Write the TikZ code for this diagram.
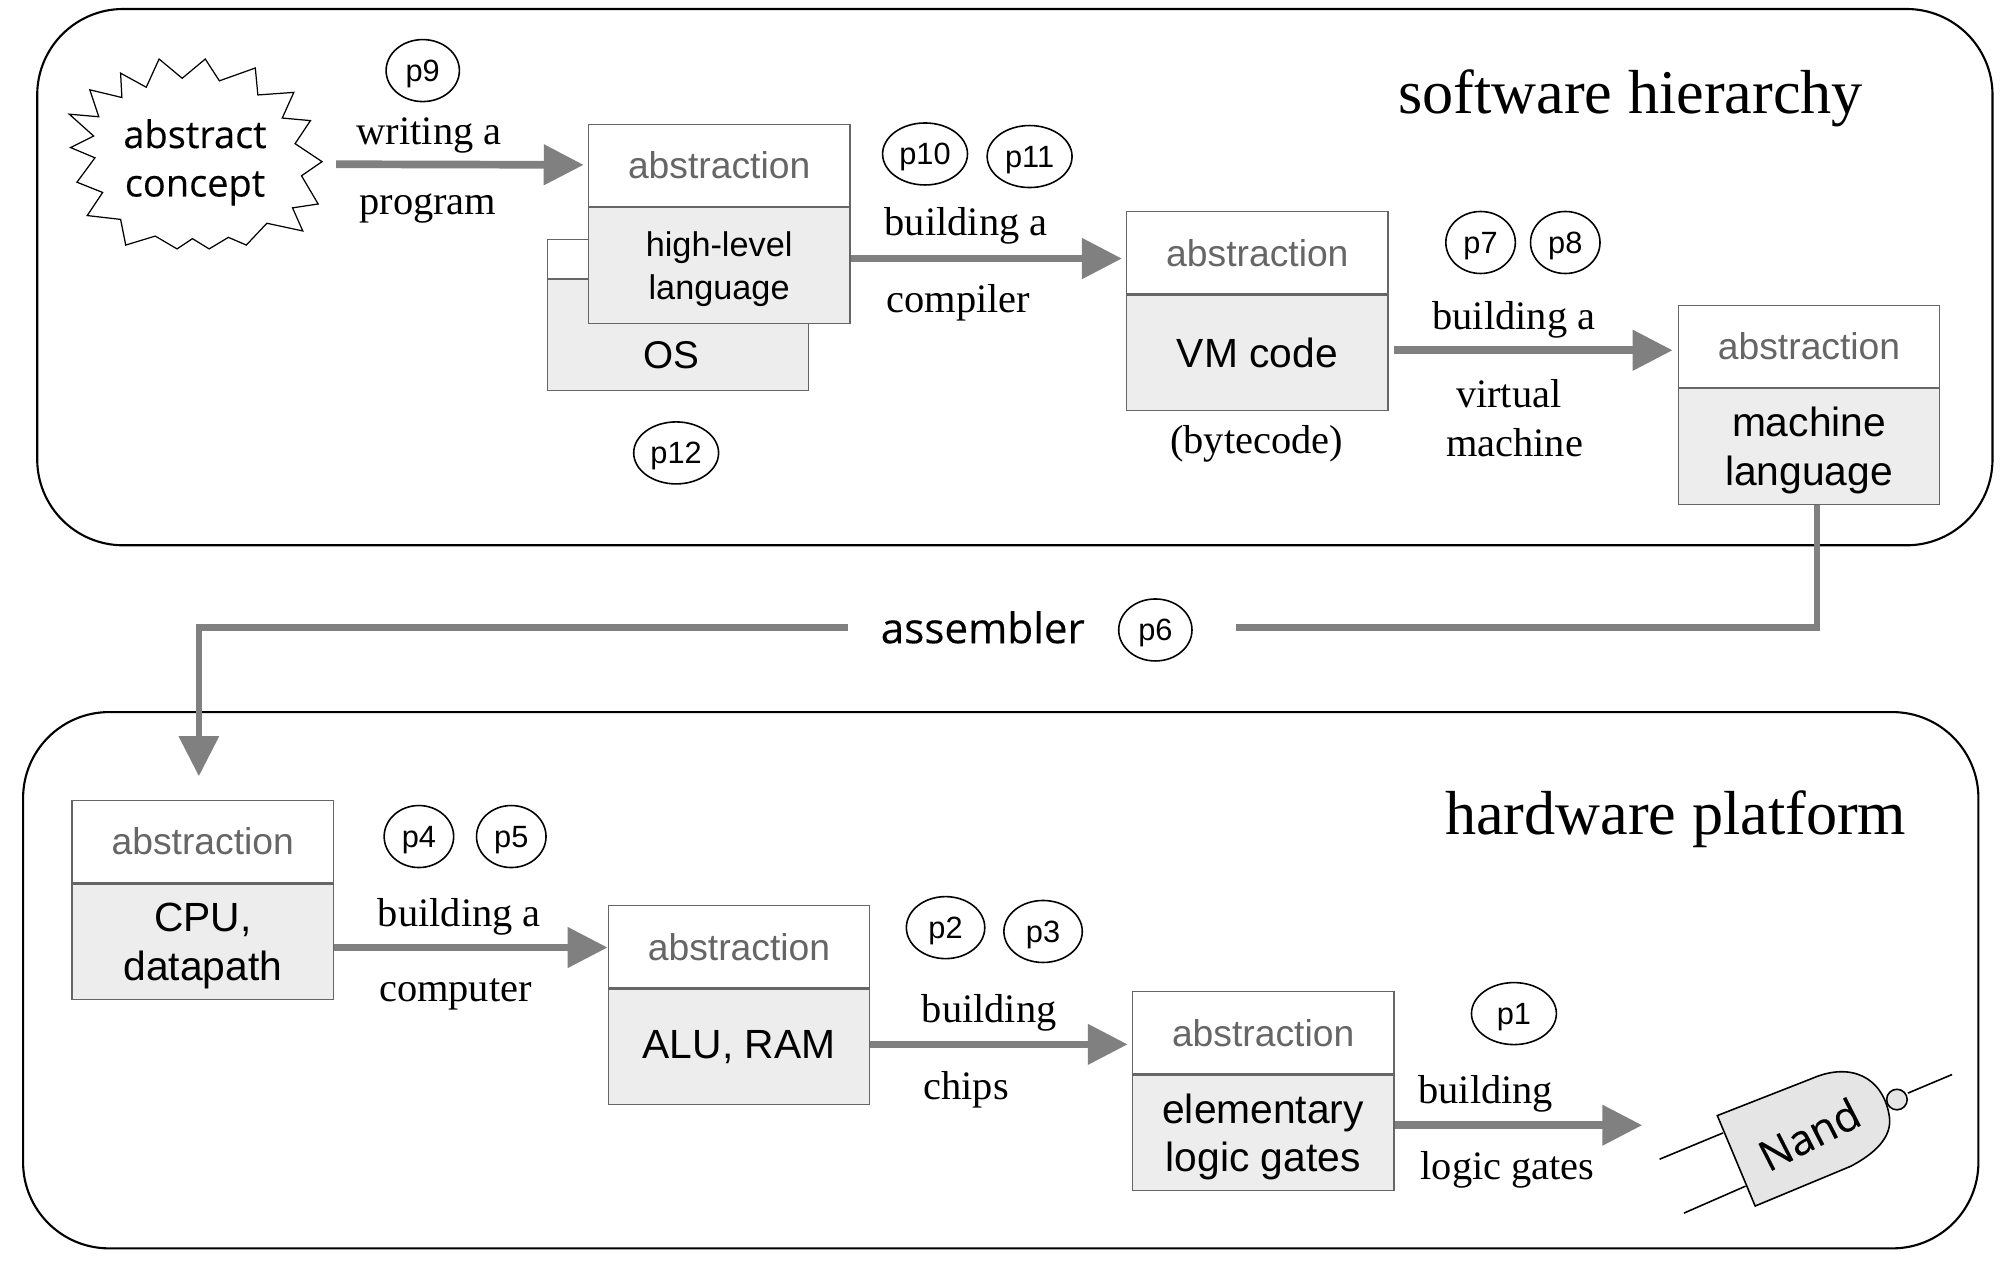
\documentclass[tikz,border=0pt]{standalone}
\usepackage{fontspec}
\setmainfont{Liberation Serif}
\setsansfont{Liberation Sans}
\newfontfamily\blobfont[FakeBold=0.25]{Open Sans}
\usetikzlibrary{arrows.meta,shapes.geometric}
\definecolor{boxgray}{gray}{0.93}
\definecolor{flowgray}{gray}{0.5}
\tikzset{
  headbox/.style={draw=black!60, line width=0.35pt, fill=white, text=black!60, font=\sffamily\fontsize{10.6}{12}\selectfont, minimum width=26.15mm, minimum height=8.2mm, inner sep=0pt},
  bodybox/.style={draw=black!60, line width=0.35pt, fill=boxgray, align=center, font=\sffamily\fontsize{11.6}{13.8}\selectfont, minimum width=26.15mm, minimum height=11.55mm, inner sep=0pt, anchor=north},
  twoline/.style={text depth=0pt},
  pmark/.style={draw, ellipse, line width=0.45pt, text depth=0pt, font=\sffamily\fontsize{8.75}{10}\selectfont, minimum width=7.33mm, minimum height=6.2mm, inner sep=0pt},
  pwide/.style={pmark, minimum width=8.49mm},
  steplabel/.style={text depth=0pt, font=\fontsize{11.5}{13}\selectfont, inner sep=0pt},
  titlelabel/.style={text depth=0pt, font=\fontsize{17.7}{20}\selectfont, inner sep=0pt},
  flow/.style={draw=flowgray, line width=0.77mm, -{Triangle[length=4mm,width=3.9mm,fill=flowgray]}, shorten >=0.4mm},
  asmline/.style={draw=flowgray, line width=0.62mm},
  frame/.style={draw, line width=0.6pt, rounded corners=8.6mm},
  gateline/.style={draw, line width=0.45pt},
}
\begin{document}
\begin{tikzpicture}[x=0.1283mm, y=-0.1283mm]
  \useasboundingbox (0,0) rectangle (1568.2,989.1);
  \draw[frame] (29,7) rectangle (1553,425);
  \draw[frame] (18,555) rectangle (1542,973);

  % software side
  \draw[line width=0.35pt, fill=white] (124,46) -- (142,61) -- (160,46) -- (171,63) -- (199,53) -- (201,74) -- (229,72) -- (220,92) -- (242,94) -- (230,112) -- (251,126) -- (235,137) -- (248,159) -- (228,162) -- (236,180) -- (208,174) -- (192,191) -- (178,185) -- (163,194) -- (150,186) -- (138,194) -- (121,184) -- (98,191) -- (94,171) -- (68,168) -- (80,150) -- (60,142) -- (74,123) -- (55,115) -- (73,106) -- (54,89) -- (77,91) -- (70,70) -- (95,76) -- (94,57) -- (114,68) -- cycle;
  \node[align=center, twoline, inner sep=0pt, font=\blobfont\fontsize{10.8}{13.8}\selectfont] (concept) at (152,123) {abstract\\concept};
  \coordinate (concepttip) at (262,128);

  \node[headbox, minimum height=3.86mm] (oshead) at (528.5,202) {};
  \node[bodybox, minimum height=11.05mm] (osbody) at (oshead.south) {};
  \node[font=\sffamily\fontsize{11}{13}\selectfont, inner sep=0pt] (oslabel) at (523.5,277) {OS};

  \node[headbox] (hllhead) at (560.5,129) {abstraction};
  \node[bodybox, twoline, font=\sffamily\fontsize{9.75}{12}\selectfont] (hllbody) at (hllhead.south) {high-level\\language};
  \node[headbox] (vmhead) at (980,197) {abstraction};
  \node[bodybox] (vmbody) at (vmhead.south) {VM code};
  \node[headbox] (mlhead) at (1410,270) {abstraction};
  \node[bodybox, twoline] (mlbody) at (mlhead.south) {machine\\language};

  \node[titlelabel] (swtitle) at (1271,71) {software hierarchy};
  \node[steplabel] (wa) at (334.5,102) {writing a};
  \node[steplabel] (wb) at (333.5,159) {program};
  \node[steplabel] (ca) at (753,173) {building a};
  \node[steplabel] (cb) at (747,233) {compiler};
  \node[steplabel] (va) at (1180,246) {building a};
  \node[steplabel] (vb) at (1176,307) {virtual};
  \node[steplabel] (vc) at (1180.5,345) {machine};
  \node[steplabel] (bc) at (979.5,342.5) {(bytecode)};

  \node[pmark] (p9) at (329.5,55) {p9};
  \node[pwide] (p10) at (721,120) {p10};
  \node[pwide] (p11) at (802.5,122) {p11};
  \node[pmark, minimum width=6.95mm] (p7) at (1154,189) {p7};
  \node[pmark, minimum width=6.95mm] (p8) at (1220,189) {p8};
  \node[pwide] (p12) at (527,353) {p12};

  \draw[flow] (concepttip) -- (hllhead.west |- 0,128.5);
  \draw[flow] (hllbody.east |- 0,201.5) -- (vmhead.west |- 0,201.5);
  \draw[flow, shorten >=0.5mm, shorten <=0.5mm] (vmbody.east |- 0,273) -- (mlhead.west |- 0,273);

  % assembler link
  \node[font=\blobfont\fontsize{12}{14}\selectfont, inner sep=0pt] (asm) at (766,489) {assembler};
  \node[pmark] (p6) at (900.5,491) {p6};
  \coordinate (gapright) at (963,489);
  \coordinate (gapleft) at (661,489);
  \coordinate (cputip) at (155,605);
  \draw[asmline] (1416,0 |- mlbody.south) |- (gapright);
  \draw[asmline, -{Triangle[length=4mm,width=3.9mm,fill=flowgray]}] (gapleft) -| (cputip);

  % hardware side
  \node[headbox] (cpuhead) at (158,656) {abstraction};
  \node[bodybox, twoline] (cpubody) at (cpuhead.south) {CPU,\\datapath};
  \node[headbox] (aluhead) at (576,738) {abstraction};
  \node[bodybox] (alubody) at (aluhead.south) {ALU, RAM};
  \node[headbox] (gatehead) at (984.5,805) {abstraction};
  \node[bodybox, twoline] (gatebody) at (gatehead.south) {elementary\\logic gates};

  \node[titlelabel] (hwtitle) at (1306,633) {hardware platform};
  \node[steplabel] (ha) at (358,711) {building a};
  \node[steplabel] (hb) at (355,771.5) {computer};
  \node[steplabel] (ja) at (771,786) {building};
  \node[steplabel] (jb) at (753,846) {chips};
  \node[steplabel] (ka) at (1158,849) {building};
  \node[steplabel] (kb) at (1175,908) {logic gates};

  \node[pmark, minimum width=6.95mm] (p4) at (326.5,652) {p4};
  \node[pmark, minimum width=6.95mm] (p5) at (398.5,652) {p5};
  \node[pwide, minimum width=7.84mm] (p2) at (737,723) {p2};
  \node[pwide, minimum width=7.84mm] (p3) at (813,726) {p3};
  \node[pwide] (p1) at (1180,790) {p1};

  \coordinate (nandtip) at (1280,877);
  \draw[flow, shorten >=0pt] (cpubody.east |- 0,738.5) -- (aluhead.west |- 0,738.5);
  \draw[flow] (alubody.east |- 0,814) -- (gatehead.west |- 0,814);
  \draw[flow, shorten >=0pt] (gatebody.east |- 0,877) -- (nandtip);

  % gate
  \begin{scope}[shift={(2.5,1.5)}]
  \draw[gateline] (1291,902) -- (1340.5,881.5);
  \draw[gateline] (1310,944) -- (1358,923);
  \draw[gateline] (1484.5,850.5) -- (1519,836);
  \draw[gateline, fill=black!10] (1336,868) -- (1365.5,938.5) -- (1440,907.5) .. controls (1458,898) and (1473,885) .. (1470,868) .. controls (1465,838) and (1440,826) .. (1410,839) -- cycle;
  \draw[gateline, fill=black!10] (1476,855.5) circle (8);
  \end{scope}
  \node[rotate=27, inner sep=0pt, font=\blobfont\fontsize{12}{14}\selectfont] (nand) at (1410,884) {Nand};
\end{tikzpicture}
\end{document}
